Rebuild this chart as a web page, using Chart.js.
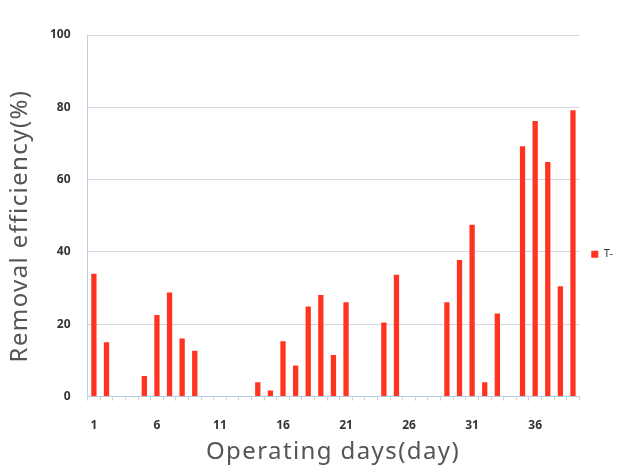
<!DOCTYPE html>
<html>
<head>
<meta charset="utf-8">
<script src="https://cdn.jsdelivr.net/npm/chart.js@4"></script>
<style>
  html, body { margin: 0; padding: 0; background: #fff; }
  #wrap { width: 621px; height: 472px; }
</style>
</head>
<body>
<div id="wrap"><canvas id="myChart"></canvas></div>
<script>
// days 1..39
const days = [];
for (let d = 1; d <= 39; d++) days.push(String(d));

const removal = [34, 15, 0, 0, 5.7, 22.6, 28.8, 16.1, 12.7, 0,
                 0, 0, 0, 4, 1.7, 15.3, 8.6, 24.9, 28.1, 11.5,
                 26.1, 0, 0, 20.5, 33.7, 0, 0, 0, 26.1, 37.8,
                 47.5, 4, 23, 0, 69.2, 76.2, 64.9, 30.5, 79.2];

const seriesName = "T-";
const xTitle = "Operating days(day)";
const yTitle = "Removal efficiency(%)";

// axis titles drawn by hand so they can sit where the original has them
const titlePlugin = {
    id: "axisTitles",
    afterDraw(chart) {
        const ctx = chart.ctx;
        ctx.save();
        ctx.fillStyle = "#555";
        ctx.font = "24px 'Noto Sans', sans-serif";
        ctx.letterSpacing = "1.4px";
        ctx.textAlign = "center";
        ctx.textBaseline = "middle";
        ctx.fillText(xTitle, 333, 452);
        ctx.translate(20, 226);
        ctx.rotate(-Math.PI / 2);
        ctx.fillText(yTitle, 0, 0);
        ctx.restore();
    }
};

new Chart("myChart", {
    type: "bar",
    data: {
        labels: days,
        datasets: [{
            label: seriesName,
            backgroundColor: "#ff3320",
            data: removal,
            barPercentage: 0.42,
            categoryPercentage: 1
        }]
    },
    options: {
        responsive: true,
        maintainAspectRatio: false,
        animation: false,
        layout: { padding: { left: 33, top: 35, bottom: 21, right: -2 } },
        plugins: {
            legend: {
                position: "right",
                title: { display: true, text: " ", padding: { top: 0, bottom: 8 }, font: { size: 12 } },
                labels: {
                    boxWidth: 7,
                    boxHeight: 7,
                    padding: 12,
                    color: "#333",
                    font: { size: 11, family: "'Noto Sans', sans-serif" }
                }
            },
            tooltip: { enabled: false }
        },
        scales: {
            x: {
                grid: { drawOnChartArea: false, drawTicks: true, tickLength: 4, color: "#c8d4e0" },
                border: { color: "#b8cce0" },
                ticks: {
                    autoSkip: false,
                    maxRotation: 0,
                    padding: 18,
                    color: "#333",
                    font: { size: 12, weight: "bold", family: "'Noto Sans', sans-serif" },
                    callback: (v, i) => (i % 5 === 0 ? days[i] : "")
                }
            },
            y: {
                min: 0,
                max: 100,
                grid: { color: "#d4d8dc", drawTicks: false },
                border: { color: "#b8d0e8" },
                ticks: {
                    stepSize: 20,
                    padding: 17,
                    color: "#333",
                    font: { size: 12, weight: "bold", family: "'Noto Sans', sans-serif" }
                }
            }
        }
    },
    plugins: [titlePlugin]
});
</script>
</body>
</html>
